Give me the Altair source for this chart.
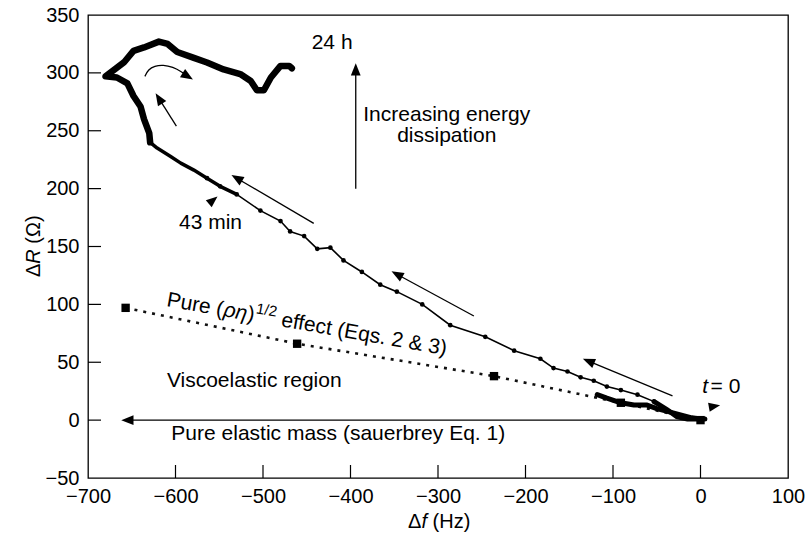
import math
import altair as alt
import pandas as pd

W, H = 700, 463
XMIN, XMAX, YMIN, YMAX = -700, 100, -50, 350
KX = W / (XMAX - XMIN)   # px per Hz
KY = H / (YMAX - YMIN)   # px per Ohm
FONT = "Liberation Sans"
FS = 21

# ---------------- data ----------------
x_ticks = [-700, -600, -500, -400, -300, -200, -100, 0, 100]
y_ticks = [-50, 0, 50, 100, 150, 200, 250, 300, 350]

# main measured curve, in time order (t = 0 ... 24 h)
curve_x = [5, -4, -15, -27, -38, -53, -72, -91, -107, -122, -137, -152, -168, -183,
           -213, -246, -286, -318, -347, -366, -387, -408, -423, -438, -453, -469,
           -480, -503, -530, -549, -564, -579, -594, -606, -621, -629, -630, -636,
           -640, -648, -655, -667, -680, -659, -648, -636, -619, -609, -598, -579,
           -564, -545, -526, -514, -507, -499, -491, -480, -470, -467]
curve_y = [1, 1, 1, 3, 9, 16, 22, 26, 29, 34, 37, 42, 45, 53,
           60, 72, 82, 100, 111, 117, 128, 138, 149, 148, 159, 163,
           172, 181, 195, 202, 209, 216, 222, 228, 235, 240, 248, 260,
           271, 280, 291, 296, 297, 309, 319, 322, 327, 325, 318, 313,
           309, 303, 299, 293, 285, 285, 296, 306, 306, 304]

# early noisy branch near t = 0
early_x = [-118, -107, -91, -76, -61, -50, -40, -25, -10, 0]
early_y = [22, 19, 15, 13, 13, 10, 8, 5, 2, 1]

# pure (rho eta)^1/2 prediction
visc_x = [-657, -461, -236, -91, 0]
visc_y = [97, 66, 38, 15, 0]

# straight arrows: start -> head centre
arrow_x1 = [-599, -442, -259, -32, -394, 0]
arrow_y1 = [254, 170, 90, 21, 200, 0]
arrow_x2 = [-619, -530, -347, -128, -394, -655]
arrow_y2 = [278, 209, 126, 51, 303, 0]

# curved arrow near the turning point
curl_x = [-635, -631, -624, -614, -603, -593, -586]
curl_y = [297, 303, 306, 307, 305, 301, 297]

# loose arrowheads (43 min and t = 0 markers)
tri_x = [-557, 16]
tri_y = [190, 12]
tri_ang = [50, 80]

# ---------------- helpers ----------------
xs = alt.Scale(domain=[XMIN, XMAX], nice=False, zero=False)
ys = alt.Scale(domain=[YMIN, YMAX], nice=False, zero=False)
xaxis = alt.Axis(values=x_ticks, title=None, labelPadding=8,
                 labelFlush=False, labelOverlap=False)
yaxis = alt.Axis(values=y_ticks, title=None, labelPadding=9,
                 labelFlush=False, labelOverlap=False)


def X(f="x"):
    return alt.X(f"{f}:Q", scale=xs, axis=xaxis)


def Y(f="y"):
    return alt.Y(f"{f}:Q", scale=ys, axis=yaxis)


HEAD = "M0,-1L-0.8,1L0.8,1Z"


def heads(df, size=150):
    return alt.Chart(df).mark_point(shape=HEAD, filled=True, fill="black", opacity=1,
                                    strokeWidth=0, size=size).encode(
        x=X(), y=Y(), angle=alt.Angle("ang:Q", scale=None))


def ang(dx, dy):
    return math.degrees(math.atan2(dx * KX, dy * KY)) % 360


def txt(x, y, s, size=FS, align="center", angle=0, style="normal", **kw):
    d = pd.DataFrame({"x": [x], "y": [y], "t": [s]})
    return alt.Chart(d).mark_text(font=FONT, fontSize=size, align=align, baseline="alphabetic",
                                  angle=angle, fontStyle=style, color="black", **kw).encode(
        x=X(), y=Y(), text="t:N")


layers = []

# inward ticks
xt = pd.DataFrame({"x": x_ticks[1:-1]})
yt = pd.DataFrame({"y": y_ticks[1:-1]})
layers.append(alt.Chart(xt).mark_rule(color="black", strokeWidth=1.2).encode(
    x=X(), y=alt.value(H), y2=alt.value(H - 13)))
layers.append(alt.Chart(yt).mark_rule(color="black", strokeWidth=1.2).encode(
    y=Y(), x=alt.value(0), x2=alt.value(13)))

# viscous line
vd = pd.DataFrame({"x": visc_x, "y": visc_y, "i": range(len(visc_x))})
layers.append(alt.Chart(vd).mark_line(color="#111", strokeWidth=2.6, strokeDash=[3, 6]).encode(
    x=X(), y=Y(), order="i:Q"))
layers.append(alt.Chart(vd).mark_square(color="black", opacity=1, size=70).encode(x=X(), y=Y()))

# main curve
cd = pd.DataFrame({"x": curve_x, "y": curve_y, "i": range(len(curve_x))})
layers.append(alt.Chart(cd).mark_line(color="black", strokeWidth=1.6).encode(
    x=X(), y=Y(), order="i:Q"))
layers.append(alt.Chart(cd.iloc[5:31]).mark_circle(color="black", opacity=1, size=22).encode(
    x=X(), y=Y()))
layers.append(alt.Chart(cd.iloc[28:36]).mark_line(color="black", strokeWidth=3.5,
                                                strokeJoin="round").encode(
    x=X(), y=Y(), order="i:Q"))
layers.append(alt.Chart(cd.iloc[35:]).mark_line(color="black", strokeWidth=6.5,
                                                strokeJoin="round", strokeCap="round").encode(
    x=X(), y=Y(), order="i:Q"))
layers.append(alt.Chart(cd.iloc[0:6]).mark_line(color="black", strokeWidth=5,
                                                strokeCap="round").encode(
    x=X(), y=Y(), order="i:Q"))
ed = pd.DataFrame({"x": early_x, "y": early_y, "i": range(len(early_x))})
layers.append(alt.Chart(ed).mark_line(color="black", strokeWidth=5, strokeCap="round",
                                      strokeJoin="round").encode(x=X(), y=Y(), order="i:Q"))

# straight arrows
ad = pd.DataFrame({"x": arrow_x1, "y": arrow_y1, "x2": arrow_x2, "y2": arrow_y2})
layers.append(alt.Chart(ad).mark_rule(color="black", strokeWidth=1.3).encode(
    x=X(), y=Y(), x2="x2:Q", y2="y2:Q"))
hd = pd.DataFrame({"x": arrow_x2, "y": arrow_y2,
                   "ang": [ang(b - a, d - c) for a, b, c, d in
                           zip(arrow_x1, arrow_x2, arrow_y1, arrow_y2)]})
layers.append(heads(hd))

# curved arrow
cu = pd.DataFrame({"x": curl_x, "y": curl_y, "i": range(len(curl_x))})
layers.append(alt.Chart(cu).mark_line(color="black", strokeWidth=1.3, interpolate="basis").encode(
    x=X(), y=Y(), order="i:Q"))
layers.append(heads(pd.DataFrame({"x": [curl_x[-1]], "y": [curl_y[-1]],
                                  "ang": [ang(curl_x[-1] - curl_x[-3], curl_y[-1] - curl_y[-3])]})))

# loose triangles
layers.append(heads(pd.DataFrame({"x": tri_x, "y": tri_y, "ang": tri_ang}), size=130))

# texts
layers.append(txt(-421, 321, "24 h"))
layers.append(txt(-290, 258, "Increasing energy\ndissipation", lineBreak="\n", lineHeight=21))
layers.append(txt(-560, 165, "43 min"))
layers.append(txt(-510, 29, "Viscoelastic region"))
layers.append(txt(-414, -17.5, "Pure elastic mass (sauerbrey Eq. 1)"))
layers.append(txt(2, 23.5, "t", align="left", style="italic"))
layers.append(txt(11.5, 23.5, "= 0", align="left"))
# rotated label along the dotted line
layers.append(txt(-611, 98.5, "Pure (", align="left", angle=10))
layers.append(txt(-546, 89.9, "ρη", align="left", angle=10, style="italic"))
layers.append(txt(-519, 86.3, ")", align="left", angle=10))
layers.append(txt(-508.5, 92.4, "1/2", size=15, align="left", angle=10))
layers.append(txt(-480, 81.2, "effect (Eqs. 2 & 3)", align="left", angle=10))

# axis titles with italic symbols (placed outside the plot area)
layers.append(txt(-334.3, -93.6, "Δ", size=20, align="left"))
layers.append(txt(-319.0, -93.6, "f", size=20, align="left", style="italic"))
layers.append(txt(-306.2, -93.6, "(Hz)", size=20, align="left"))
layers.append(txt(-755, 123.6, "Δ", size=20, align="left", angle=270))
layers.append(txt(-755, 135.1, "R", size=20, align="left", angle=270, style="italic"))
layers.append(txt(-755, 152.4, "(Ω)", size=20, align="left", angle=270))

chart = alt.layer(*layers).properties(
    width=W, height=H,
    padding={"left": 88, "top": 15, "right": 17, "bottom": 61},
    autosize=alt.AutoSizeParams(type="none"),
).configure_view(stroke="black", strokeWidth=1.3).configure_axis(
    labelFont=FONT, titleFont=FONT, labelColor="black", titleColor="black",
    labelFontSize=20, titleFontSize=20, titleFontWeight="normal",
    domain=False, ticks=False, grid=False,
)

chart.save("out.html", embed_options={"renderer": "svg", "actions": False})
